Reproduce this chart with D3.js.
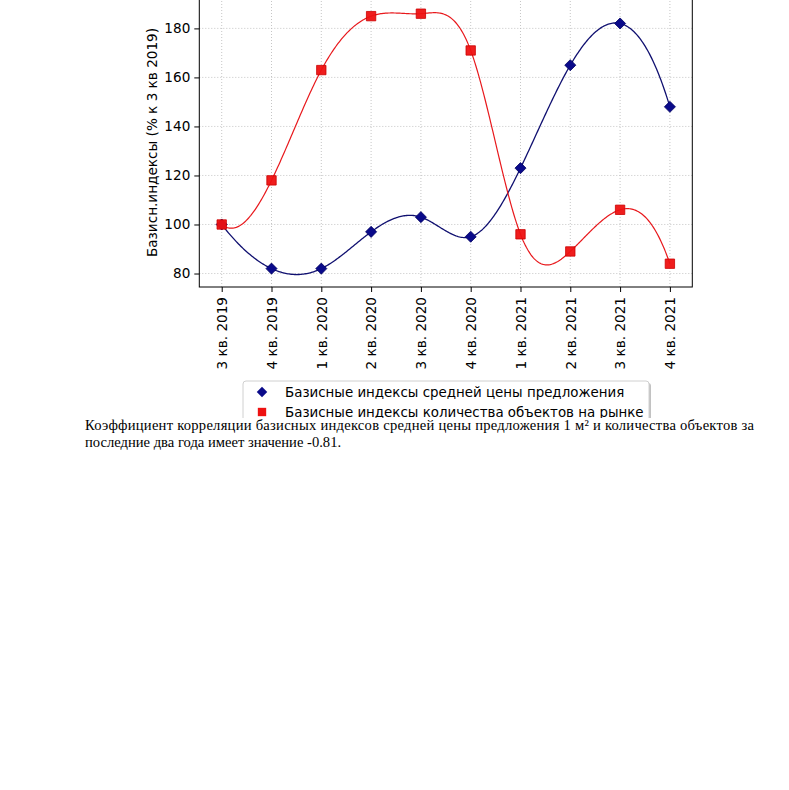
<!DOCTYPE html>
<html><head><meta charset="utf-8">
<script src="https://cdn.jsdelivr.net/npm/d3@7/dist/d3.min.js"></script>
<style>
html,body{margin:0;padding:0;background:#fff;}
svg{display:block;}
</style></head>
<body>
<svg id="chart" width="789" height="790"></svg>
<script>
const categories = ["3 кв. 2019","4 кв. 2019","1 кв. 2020","2 кв. 2020","3 кв. 2020","4 кв. 2020","1 кв. 2021","2 кв. 2021","3 кв. 2021","4 кв. 2021"];
const priceIndex = [100, 82, 82, 97, 103, 95, 123, 165, 182, 148];
const countIndex = [100, 118, 163, 185, 186, 171, 96, 89, 106, 84];
const yTicks = [80, 100, 120, 140, 160, 180];
const seriesNames = ["Базисные индексы средней цены предложения", "Базисные индексы количества объектов на рынке"];
const yLabel = "Базисн.индексы (% к 3 кв 2019)";
const noteLine1 = "Коэффициент корреляции базисных индексов средней цены предложения 1 м² и количества объектов за";
const noteLine2 = "последние два года имеет значение -0.81.";

// not-a-knot cubic spline (uniform spacing)
function spline(ys, samples){
  const n = ys.length;
  const A = [], b = [];
  for(let i=0;i<n;i++){ A.push(new Array(n).fill(0)); b.push(0); }
  A[0][0]=1; A[0][1]=-2; A[0][2]=1;
  for(let i=1;i<n-1;i++){ A[i][i-1]=1; A[i][i]=4; A[i][i+1]=1; b[i]=6*(ys[i-1]-2*ys[i]+ys[i+1]); }
  A[n-1][n-3]=1; A[n-1][n-2]=-2; A[n-1][n-1]=1;
  for(let c=0;c<n;c++){
    let p=c; for(let r=c+1;r<n;r++) if(Math.abs(A[r][c])>Math.abs(A[p][c])) p=r;
    [A[c],A[p]]=[A[p],A[c]]; [b[c],b[p]]=[b[p],b[c]];
    for(let r=c+1;r<n;r++){ const f=A[r][c]/A[c][c]; if(!f) continue; for(let k=c;k<n;k++) A[r][k]-=f*A[c][k]; b[r]-=f*b[c]; }
  }
  const M=new Array(n).fill(0);
  for(let r=n-1;r>=0;r--){ let s=b[r]; for(let k=r+1;k<n;k++) s-=A[r][k]*M[k]; M[r]=s/A[r][r]; }
  const pts=[];
  for(let s=0;s<=samples;s++){
    const x=s*(n-1)/samples; let i=Math.min(Math.floor(x), n-2); const t=x-i, u=1-t;
    const y=u*ys[i]+t*ys[i+1]+((u*u*u-u)*M[i]+(t*t*t-t)*M[i+1])/6;
    pts.push([x,y]);
  }
  return pts;
}

const FS = "13.6px";
const LFS = "13.4px";
const svg = d3.select("#chart");
svg.append("rect").attr("width",789).attr("height",790).attr("fill","#fff");
svg.append("defs").append("clipPath").attr("id","pageclip").append("rect").attr("x",0).attr("y",0).attr("width",789).attr("height",418);
const g = svg.append("g").attr("clip-path","url(#pageclip)").style("font-family","'DejaVu Sans', sans-serif");

const L=199.3, R=692.3, T=-2, B=287;
const x = d3.scaleLinear().domain([-0.45, categories.length-1+0.45]).range([L,R]);
const y = d3.scaleLinear().domain([74.5, 192.4]).range([B,T]);

// grid
const idx = d3.range(categories.length);
g.append("g").selectAll("line").data(idx).join("line")
  .attr("x1",d=>x(d)).attr("x2",d=>x(d)).attr("y1",T).attr("y2",B)
  .attr("stroke","#b8b8b8").attr("stroke-width",0.8).attr("stroke-dasharray","1,2");
g.append("g").selectAll("line").data(yTicks).join("line")
  .attr("x1",L).attr("x2",R).attr("y1",d=>y(d)).attr("y2",d=>y(d))
  .attr("stroke","#b8b8b8").attr("stroke-width",0.8).attr("stroke-dasharray","1,2");

// axes
const xAxis = g.append("g").attr("transform",`translate(0,${B})`)
  .call(d3.axisBottom(x).tickValues(idx).tickFormat(i=>categories[i]).tickSizeOuter(0).tickSize(5));
xAxis.select(".domain").remove();
xAxis.selectAll("text").attr("transform","rotate(-90)").attr("text-anchor","end")
  .attr("x",-10).attr("y",0).attr("dy","0.35em").style("font-size",FS).style("font-family","'DejaVu Sans', sans-serif").attr("fill","#000");
const yAxis = g.append("g").attr("transform",`translate(${L},0)`)
  .call(d3.axisLeft(y).tickValues(yTicks).tickSize(5).tickSizeOuter(0));
yAxis.select(".domain").remove();
yAxis.selectAll("text").style("font-size",FS).style("font-family","'DejaVu Sans', sans-serif").attr("x",-9).attr("fill","#000");

g.append("rect").attr("x",L).attr("y",T).attr("width",R-L).attr("height",B-T)
  .attr("fill","none").attr("stroke","#000").attr("stroke-width",1);

g.append("text").attr("transform",`translate(157,${(T+B)/2}) rotate(-90)`)
  .attr("text-anchor","middle").style("font-size",FS).text(yLabel);

// lines
const line = d3.line().x(d=>x(d[0])).y(d=>y(d[1]));
g.append("path").attr("d",line(spline(priceIndex,400))).attr("fill","none").attr("stroke","#101070").attr("stroke-width",1.3);
g.append("path").attr("d",line(spline(countIndex,400))).attr("fill","none").attr("stroke","#e8181c").attr("stroke-width",1.2);

const diamond = d3.symbol().type(d3.symbolDiamond2).size(78);
const square = d3.symbol().type(d3.symbolSquare).size(88);
g.append("g").selectAll("path").data(priceIndex).join("path")
  .attr("d",diamond).attr("transform",(d,i)=>`translate(${x(i)},${y(d)})`)
  .attr("fill","#0a0a8a").attr("stroke","#000060").attr("stroke-width",0.8);
g.append("g").selectAll("path").data(countIndex).join("path")
  .attr("d",square).attr("transform",(d,i)=>`translate(${x(i)},${y(d)})`)
  .attr("fill","#ee1111").attr("stroke","#cc0000").attr("stroke-width",0.8).attr("fill-opacity",0.95);

// legend
const lg = g.append("g");
lg.append("rect").attr("x",245).attr("y",383).attr("width",406).attr("height",60).attr("rx",3).attr("fill","#999").attr("opacity",0.6);
lg.append("rect").attr("x",243).attr("y",381).attr("width",406).attr("height",60).attr("rx",3).attr("fill","#fff").attr("stroke","#d0d0d0");
lg.append("path").attr("d",d3.symbol().type(d3.symbolDiamond2).size(70)).attr("transform","translate(262,392)").attr("fill","#0a0a8a");
lg.append("path").attr("d",d3.symbol().type(d3.symbolSquare).size(70)).attr("transform","translate(262,412)").attr("fill","#ee1111");
lg.append("text").attr("x",285).attr("y",397).style("font-size",LFS).text(seriesNames[0]);
lg.append("text").attr("x",285).attr("y",417).style("font-size",LFS).text(seriesNames[1]);

// note paragraph
const note = svg.append("g").style("font-family","'Liberation Serif', 'Times New Roman', serif").style("font-size","14.6px");
note.append("text").attr("x",85).attr("y",430).attr("textLength",669).attr("lengthAdjust","spacing").text(noteLine1);
note.append("text").attr("x",85).attr("y",447).text(noteLine2);
</script>
</body></html>
